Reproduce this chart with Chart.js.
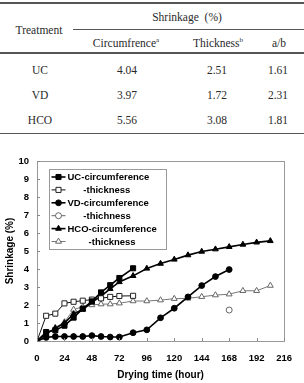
<!DOCTYPE html>
<html><head><meta charset="utf-8">
<script src="https://cdn.jsdelivr.net/npm/chart.js@4/dist/chart.umd.min.js"></script>
<style>
html,body{margin:0;padding:0;background:#fff;}
body{width:304px;height:383px;position:relative;overflow:hidden;font-family:"Liberation Serif","Times New Roman",serif;color:#2a2a2a;}
.t{position:absolute;font-size:11.5px;white-space:nowrap;transform:translate(-50%,-50%);}
.rule{position:absolute;background:#555;}
sup{font-size:7px;vertical-align:5px;line-height:0;}
#wrap{position:absolute;left:0;top:140px;width:304px;height:243px;}
</style></head>
<body>
<div class="rule" style="left:0;top:2px;width:304px;height:2px;"></div>
<div class="t" style="left:39px;top:30px;">Treatment</div>
<div class="t" style="left:187px;top:17px;">Shrinkage&nbsp;&nbsp;(%)</div>
<div class="rule" style="left:73px;top:29px;width:231px;height:1px;"></div>
<div class="t" style="left:126px;top:43px;">Circumfrence<sup>a</sup></div>
<div class="t" style="left:218px;top:43px;">Thickness<sup>b</sup></div>
<div class="t" style="left:279px;top:43px;">a/b</div>
<div class="rule" style="left:0;top:52px;width:304px;height:2px;"></div>
<div id="rows"></div>
<div class="rule" style="left:0;top:133px;width:304px;height:1px;"></div>
<div id="wrap"><canvas id="c" width="304" height="243"></canvas></div>
<script>
// ---- table data ----
const treatments = ["UC", "VD", "HCO"];
const circTable = ["4.04", "3.97", "5.56"];
const thickTable = ["2.51", "1.72", "3.08"];
const ratioTable = ["1.61", "2.31", "1.81"];

// ---- chart data ----
const hoursUC = [0, 8, 16, 24, 32, 40, 48, 56, 64, 72, 84];
const ucCirc  = [0, 0.5, 0.6, 0.85, 1.3, 1.8, 2.2, 2.7, 3.1, 3.5, 4.04];
const ucThick = [0, 1.4, 1.52, 2.09, 2.18, 2.24, 2.3, 2.37, 2.45, 2.5, 2.51];

const hoursVD = [0, 8, 16, 24, 32, 40, 48, 56, 64, 72, 84, 96, 108, 120, 132, 144, 156, 168];
const vdCirc  = [0, 0.2, 0.25, 0.25, 0.25, 0.25, 0.3, 0.25, 0.22, 0.22, 0.46, 0.62, 1.29, 1.82, 2.45, 3.08, 3.58, 3.97];
const hoursVDThick = [168];
const vdThick = [1.72];

const hoursHCO = [0, 8, 16, 24, 32, 40, 48, 56, 64, 72, 84, 96, 108, 120, 132, 144, 156, 168, 180, 192, 204];
const hcoCirc  = [0, 0.4, 0.7, 1.0, 1.5, 1.75, 2.15, 2.5, 2.9, 3.28, 3.62, 4.03, 4.3, 4.53, 4.77, 4.97, 5.1, 5.23, 5.36, 5.48, 5.56];
const hcoThick = [0, 0.35, 0.75, 1.05, 1.75, 1.9, 2.0, 2.05, 2.05, 2.1, 2.22, 2.22, 2.27, 2.35, 2.37, 2.46, 2.55, 2.6, 2.79, 2.79, 3.08];

const xTicks = [0, 24, 48, 72, 96, 120, 144, 168, 192, 216];
const yTicks = [0, 1, 2, 3, 4, 5, 6, 7, 8, 9, 10];

// build table rows
const rowsEl = document.getElementById('rows');
const rowY = [70, 95, 120];
const colX = [40, 127, 217, 278];
treatments.forEach((t, i) => {
  [t, circTable[i], thickTable[i], ratioTable[i]].forEach((v, j) => {
    const d = document.createElement('div');
    d.className = 't';
    d.style.left = colX[j] + 'px';
    d.style.top = rowY[i] + 'px';
    d.textContent = v;
    rowsEl.appendChild(d);
  });
});

const pts = (xs, ys) => xs.map((x, i) => ({x: x, y: ys[i]}));

const datasets = [
  {label: 'UC-circumference', data: pts(hoursUC, ucCirc), borderColor: '#000', backgroundColor: '#000',
   borderWidth: 1.6, pointStyle: 'rect', pointRadius: 3.6, pointBorderWidth: 1, pointBackgroundColor: '#000', pointBorderColor: '#000'},
  {label: '      -thickness', data: pts(hoursUC, ucThick), borderColor: '#111', backgroundColor: '#fff',
   borderWidth: 1, pointStyle: 'rect', pointRadius: 3.6, pointBorderWidth: 1, pointBackgroundColor: '#fff', pointBorderColor: '#222'},
  {label: 'VD-circumference', data: pts(hoursVD, vdCirc), borderColor: '#000', backgroundColor: '#000',
   borderWidth: 1.6, pointStyle: 'circle', pointRadius: 2.9, pointBorderWidth: 1, pointBackgroundColor: '#000', pointBorderColor: '#000'},
  {label: '      -thichness', data: pts(hoursVDThick, vdThick), borderColor: '#666', backgroundColor: '#fff',
   borderWidth: 1, showLine: false, pointStyle: 'circle', pointRadius: 3, pointBorderWidth: 1, pointBackgroundColor: '#fff', pointBorderColor: '#666'},
  {label: 'HCO-circumference', data: pts(hoursHCO, hcoCirc), borderColor: '#000', backgroundColor: '#000',
   borderWidth: 1.6, pointStyle: 'triangle', pointRadius: 3.3, pointBorderWidth: 1, pointBackgroundColor: '#000', pointBorderColor: '#000'},
  {label: '        -thickness', data: pts(hoursHCO, hcoThick), borderColor: '#777', backgroundColor: '#fff',
   borderWidth: 1, pointStyle: 'triangle', pointRadius: 3.4, pointBorderWidth: 1, pointBackgroundColor: '#fff', pointBorderColor: '#666'}
];

const boldFont = {family: '"Liberation Sans", Arial, sans-serif', weight: 'bold', size: 9.5};

const framePlugin = {
  id: 'frame',
  afterDraw(chart) {
    const ctx = chart.ctx, a = chart.chartArea;
    const xs = chart.scales.x, ys = chart.scales.y;
    ctx.save();
    ctx.strokeStyle = '#999';
    ctx.lineWidth = 1;
    ctx.strokeRect(Math.round(a.left) + 0.5, Math.round(a.top) + 0.5, Math.round(a.right - a.left), Math.round(a.bottom - a.top));
    // inward tick marks
    ctx.strokeStyle = '#888';
    xTicks.forEach(v => {
      const px = Math.round(xs.getPixelForValue(v)) + 0.5;
      ctx.beginPath(); ctx.moveTo(px, a.bottom); ctx.lineTo(px, a.bottom - 3); ctx.stroke();
    });
    yTicks.forEach(v => {
      const py = Math.round(ys.getPixelForValue(v)) + 0.5;
      ctx.beginPath(); ctx.moveTo(a.left, py); ctx.lineTo(a.left + 3, py); ctx.stroke();
    });
    ctx.restore();
  },
  afterDatasetsDraw(chart) {
    // legend box inside plot area
    const ctx = chart.ctx, a = chart.chartArea;
    const bx = a.left + 12.5, by = a.top + 8.5, bw = 117, bh = 80, rowH = 12.9;
    ctx.save();
    ctx.fillStyle = '#fff';
    ctx.fillRect(bx, by, bw, bh);
    ctx.strokeStyle = '#999';
    ctx.lineWidth = 1;
    ctx.strokeRect(bx, by, bw, bh);
    ctx.font = 'bold 9.5px "Liberation Sans", Arial, sans-serif';
    ctx.textBaseline = 'middle';
    chart.data.datasets.forEach((ds, i) => {
      const cy = by + 7.5 + i * rowH;
      const x0 = bx + 2, x1 = bx + 16, xm = (x0 + x1) / 2;
      ctx.strokeStyle = ds.borderColor;
      ctx.lineWidth = ds.borderWidth;
      ctx.beginPath(); ctx.moveTo(x0, cy); ctx.lineTo(x1, cy); ctx.stroke();
      ctx.fillStyle = ds.pointBackgroundColor;
      ctx.strokeStyle = ds.pointBorderColor;
      ctx.lineWidth = ds.pointBorderWidth;
      Chart.helpers.drawPoint(ctx, {pointStyle: ds.pointStyle, radius: ds.pointRadius, rotation: 0, borderWidth: ds.pointBorderWidth}, xm, cy);
      ctx.fillStyle = '#000';
      ctx.fillText(ds.label, bx + 18, cy + 0.5);
    });
    ctx.restore();
  }
};

new Chart(document.getElementById('c'), {
  type: 'line',
  data: {datasets: datasets},
  options: {
    responsive: false,
    animation: false,
    layout: {padding: {top: 21, right: 12, left: 0, bottom: 0}},
    plugins: {legend: {display: false}, tooltip: {enabled: false}},
    elements: {line: {tension: 0}},
    scales: {
      x: {
        type: 'linear', min: 0, max: 216,
        afterBuildTicks: s => { s.ticks = xTicks.map(v => ({value: v})); },
        afterFit: s => { s.height = 42; },
        grid: {display: false, drawTicks: false},
        border: {display: true, color: '#999', width: 1},
        ticks: {font: boldFont, color: '#000', padding: 12, maxRotation: 0, autoSkip: false},
        title: {display: true, text: 'Drying time (hour)', font: {family: '"Liberation Sans", Arial, sans-serif', weight: 'bold', size: 10}, color: '#000', padding: {top: 2, bottom: 2}}
      },
      y: {
        type: 'linear', min: 0, max: 10,
        afterBuildTicks: s => { s.ticks = yTicks.map(v => ({value: v})); },
        afterFit: s => { s.width = 37; },
        grid: {display: false, drawTicks: false},
        border: {display: true, color: '#999', width: 1},
        ticks: {font: boldFont, color: '#000', padding: 8, autoSkip: false},
        title: {display: true, text: 'Shrinkage (%)', font: {family: '"Liberation Sans", Arial, sans-serif', weight: 'bold', size: 10}, color: '#000', padding: {top: 4, bottom: 0}}
      }
    }
  },
  plugins: [framePlugin]
});
</script>
</body></html>
